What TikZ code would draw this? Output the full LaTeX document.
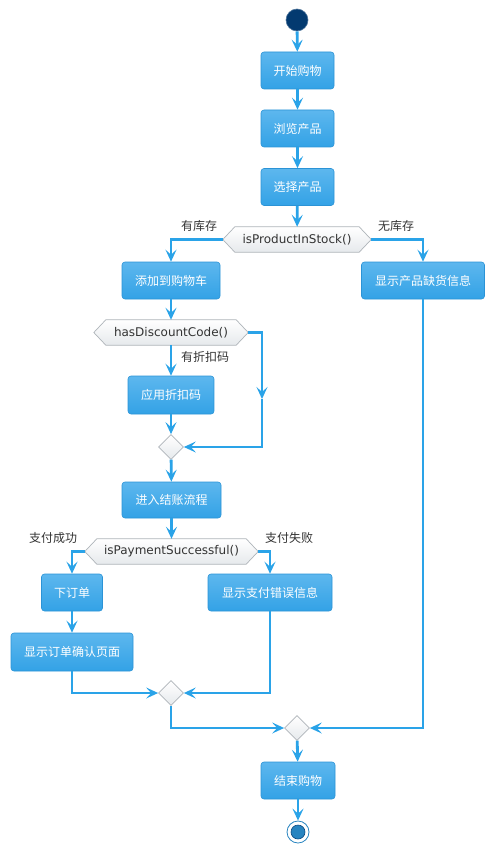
\documentclass[tikz,border=0pt]{standalone}
\usepackage{fontspec}
\setmainfont{DejaVu Sans}
\newfontfamily\cjk{Noto Sans CJK SC}
\usetikzlibrary{arrows.meta,shapes.geometric}
\pgfdeclarelayer{background}
\pgfsetlayers{background,main}
\definecolor{flowc}{HTML}{2AA3E8}
\definecolor{boxtop}{HTML}{5DB7EE}
\definecolor{boxbot}{HTML}{33A2E6}
\definecolor{boxedge}{HTML}{2B93D6}
\definecolor{hexbot}{HTML}{E6E9EC}
\definecolor{hexedge}{HTML}{AEB4B9}
\definecolor{startc}{HTML}{033A70}
\definecolor{endc}{HTML}{2784C0}
\definecolor{labc}{HTML}{333333}
\tikzset{
  actbox/.style={rectangle, rounded corners=3pt, top color=boxtop, bottom color=boxbot,
    draw=boxedge, line width=0.6pt, text=white, inner sep=0pt,
    font=\cjk\fontsize{12}{14}\selectfont},
  hexbox/.style={rectangle, inner sep=0pt, minimum height=25pt, text=labc,
    font=\fontsize{12}{14}\selectfont},
  hexshade/.style={top color=white, bottom color=hexbot, draw=hexedge, line width=0.7pt},
  joinnode/.style={diamond, inner sep=0pt, minimum width=25pt, minimum height=25pt,
    top color=white, bottom color=hexbot, draw=hexedge, line width=0.7pt},
  flow/.style={draw=flowc, line width=2.8pt, -{Stealth[length=12pt,width=11pt,inset=5pt]}},
  lab/.style={text=labc, font=\cjk\fontsize{12}{14}\selectfont, inner sep=0pt}
}
\newcommand\hexdraw[1]{\shade[hexshade] (#1.west) -- ([xshift=12pt]#1.north west) -- ([xshift=-12pt]#1.north east) -- (#1.east) -- ([xshift=-12pt]#1.south east) -- ([xshift=12pt]#1.south west) -- cycle;}
\begin{document}
\begin{tikzpicture}[x=1pt,y=-1pt]
\useasboundingbox (0,0) rectangle (495,853);
% start
\node[circle, fill=startc, draw=startc!70!white, line width=0.6pt, minimum size=22pt, inner sep=0pt] (st) at (297,20) {};
\node[actbox, minimum width=73pt, minimum height=37pt] (b1) at (297.5,70.5) {开始购物};
\node[actbox, minimum width=73pt, minimum height=37pt] (b2) at (297.5,128.5) {浏览产品};
\node[actbox, minimum width=73pt, minimum height=37pt] (b3) at (297.5,187) {选择产品};
\node[hexbox, minimum width=148pt] (h1) at (297,239.5) {isProductInStock()};
\node[actbox, minimum width=98pt, minimum height=37pt] (b4) at (171,280.5) {添加到购物车};
\node[actbox, minimum width=123pt, minimum height=37pt] (b5) at (423,280.5) {显示产品缺货信息};
\node[hexbox, minimum width=154pt] (h2) at (171,332.5) {hasDiscountCode()};
\node[actbox, minimum width=86pt, minimum height=38pt] (b6) at (171,395) {应用折扣码};
\node[joinnode] (j1) at (171,447) {};
\coordinate (m1) at (262,399);
\node[actbox, minimum width=99pt, minimum height=36pt] (b7) at (171.5,500) {进入结账流程};
\node[hexbox, minimum width=173pt] (h3) at (171.5,551.5) {isPaymentSuccessful()};
\node[actbox, minimum width=61pt, minimum height=37pt] (b8) at (72,592.5) {下订单};
\node[actbox, minimum width=124pt, minimum height=37pt] (b9) at (270,592.5) {显示支付错误信息};
\node[actbox, minimum width=122pt, minimum height=38pt] (b10) at (72,652) {显示订单确认页面};
\node[joinnode] (j2) at (171,693) {};
\node[joinnode] (j3) at (297,728) {};
\node[actbox, minimum width=74pt, minimum height=37pt] (b11) at (298,780.5) {结束购物};
\node[circle, draw=endc, line width=0.8pt, fill=white, minimum size=22pt, inner sep=0pt] (en) at (298,832) {};
\node[circle, draw=startc!80!endc, line width=0.6pt, fill=endc, minimum size=14pt, inner sep=0pt] (enin) at (298,832) {};
\begin{pgfonlayer}{background}
\hexdraw{h1}
\hexdraw{h2}
\hexdraw{h3}
\end{pgfonlayer}
% labels
\node[lab] (l1) at (199,226) {有库存};
\node[lab] (l2) at (396,226) {无库存};
\node[lab, anchor=west] (l3) at (181,357) {有折扣码};
\node[lab] (l4) at (53,538) {支付成功};
\node[lab] (l5) at (289,538) {支付失败};
% connectors
\draw[flow] (st) -- (b1);
\draw[flow] (b1) -- (b2);
\draw[flow] (b2) -- (b3);
\draw[flow] (b3) -- (h1);
\draw[flow] (h1.west) -| (b4.north);
\draw[flow] (h1.east) -| (b5.north);
\draw[flow] (b4) -- (h2);
\draw[flow] (h2) -- (b6);
\draw[flow] (h2.east) -| (m1);
\draw[flow] (m1) |- (j1.east);
\draw[flow] (b6) -- (j1);
\draw[flow] (j1) -- (b7);
\draw[flow] (b7) -- (h3);
\draw[flow] (h3.west) -| (b8.north);
\draw[flow] (h3.east) -| (b9.north);
\draw[flow] (b8) -- (b10);
\draw[flow] (b10.south) |- (j2.west);
\draw[flow] (b9.south) |- (j2.east);
\draw[flow] (j2.south) |- (j3.west);
\draw[flow] (b5.south) |- (j3.east);
\draw[flow] (j3) -- (b11);
\draw[flow] (b11) -- (en);
\end{tikzpicture}
\end{document}
